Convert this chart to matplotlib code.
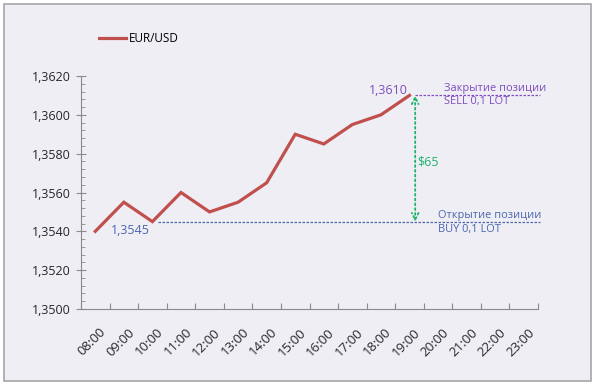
import matplotlib
matplotlib.use("Agg")
import matplotlib.pyplot as plt
import matplotlib.patches as patches
import matplotlib.transforms as mtransforms
from matplotlib.ticker import MultipleLocator, FuncFormatter

plt.rcParams['font.family'] = ['Open Sans', 'DejaVu Sans']

hours = ['08:00', '09:00', '10:00', '11:00', '12:00', '13:00', '14:00', '15:00',
         '16:00', '17:00', '18:00', '19:00', '20:00', '21:00', '22:00', '23:00']
eurusd = [1.3540, 1.3555, 1.3545, 1.3560, 1.3550, 1.3555, 1.3565, 1.3590,
          1.3585, 1.3595, 1.3600, 1.3610]
open_price = 1.3545
close_price = 1.3610
profit_label = '$65'

bg = '#F0EEF5'
purple = '#7E4DBE'
blue = '#4A68AC'
green = '#1DB36A'
axis_gray = '#8A8A8A'

fig = plt.figure(figsize=(5.97, 3.85), dpi=100, facecolor='white')
fig.patches.append(patches.Rectangle((4 / 597, 4 / 385), 587 / 597, 377 / 385,
                                     transform=fig.transFigure, facecolor=bg,
                                     edgecolor='#A6A6A6', linewidth=1.2, zorder=-5))

ax = fig.add_axes([81 / 597, 1 - 309 / 385, 457 / 597, 233 / 385])
ax.set_facecolor('none')

x = list(range(len(eurusd)))
line, = ax.plot(x, eurusd, color='#C0504D', linewidth=2.3, solid_joinstyle='miter',
                label='EUR/USD', zorder=3)

ax.set_xlim(-0.5, len(hours) - 0.5)
ax.set_ylim(1.3500, 1.3620)

ax.yaxis.set_major_locator(MultipleLocator(0.002))
ax.yaxis.set_minor_locator(MultipleLocator(0.0004))
ax.yaxis.set_major_formatter(FuncFormatter(lambda v, p: f'{v:.4f}'.replace('.', ',')))

ax.set_xticks([i - 0.5 for i in range(len(hours) + 1)])
ax.set_xticklabels([])
ax.set_xticks(range(len(hours)), minor=True)
ax.set_xticklabels(hours, minor=True, rotation=45, ha='right', va='top',
                   rotation_mode='anchor', fontsize=9.5, color='#262626')
ax.tick_params(axis='x', which='minor', length=0, pad=12)
ax.tick_params(axis='x', which='major', direction='in', length=4, color=axis_gray)
ax.tick_params(axis='y', which='major', direction='inout', length=7, color=axis_gray,
               labelsize=9, labelcolor='#262626', pad=4)
ax.tick_params(axis='y', which='minor', direction='in', length=3, color=axis_gray)

shift = mtransforms.ScaledTranslation(4 / 100, 0, fig.dpi_scale_trans)
for lab in ax.get_xticklabels(minor=True):
    lab.set_transform(lab.get_transform() + shift)

for s in ['top', 'right']:
    ax.spines[s].set_visible(False)
for s in ['left', 'bottom']:
    ax.spines[s].set_color(axis_gray)

# open / close levels
ax.plot([2.2, 15.57], [open_price, open_price], color=blue, linestyle=(0, (2, 1.2)),
        linewidth=0.9, clip_on=False)
ax.plot([11.2, 15.57], [close_price, close_price], color=purple, linestyle=(0, (2, 1.2)),
        linewidth=0.9, clip_on=False)

ax.text(1.23, open_price - 0.00045, '1,3545', color=blue, fontsize=9, va='center', ha='center')
ax.text(10.95, close_price + 0.00025, '1,3610', color=purple, fontsize=9,
        va='center', ha='right')

ax.text(12.2, close_price + 0.00005, 'Закрытие позиции', color=purple, fontsize=7.9,
        va='bottom', ha='left')
ax.text(12.2, close_price - 0.00005, 'SELL 0,1 LOT', color=purple, fontsize=7.9,
        va='top', ha='left')
ax.text(12.0, open_price + 0.00005, 'Открытие позиции', color=blue, fontsize=7.9,
        va='bottom', ha='left')
ax.text(12.0, open_price - 0.00012, 'BUY 0,1 LOT', color=blue, fontsize=7.9,
        va='top', ha='left')

ax.annotate('', xy=(11.2, close_price), xytext=(11.2, open_price),
            arrowprops=dict(arrowstyle='<->', color=green, linestyle=':', linewidth=1.3,
                            shrinkA=0, shrinkB=0, mutation_scale=12))
ax.text(11.27, (open_price + close_price) / 2 - 0.0002, profit_label, color=green,
        fontsize=9, va='center', ha='left')

fig.legend(handles=[line], loc='center left', bbox_to_anchor=(88 / 597, 1 - 39 / 385),
           frameon=False, fontsize=8.5, handlelength=2.3, handletextpad=0.3)

fig.savefig('out.png', dpi=100, facecolor='white')
